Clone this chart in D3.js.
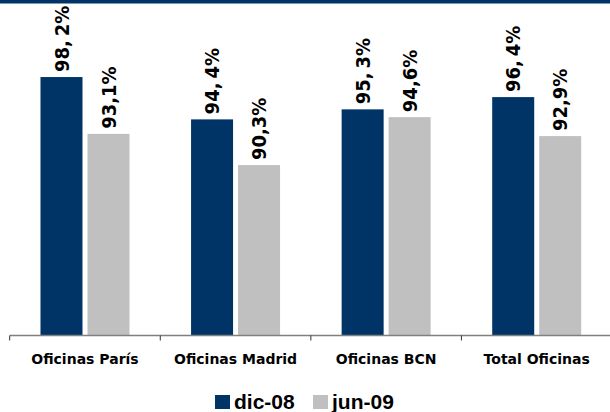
<!DOCTYPE html>
<html>
<head>
<meta charset="utf-8">
<script src="https://cdn.jsdelivr.net/npm/d3@7"></script>
<style>
  body { margin: 0; background: #fff; }
  svg { display: block; }
</style>
</head>
<body>
<div id="chart-area"></div>
<script>
// Data
var categories = ["Oficinas París", "Oficinas Madrid", "Oficinas BCN", "Total Oficinas"];
var series = ["dic-08", "jun-09"];
var dic08 = [98.2, 94.4, 95.3, 96.4];
var jun09 = [93.1, 90.3, 94.6, 92.9];
var colors = ["#003366", "#c0c0c0"];

var width = 610, height = 412;
var plot = { left: 9.7, right: 612, top: 57, bottom: 335.5 };

var svg = d3.select("#chart-area")
    .append("svg")
    .attr("width", width)
    .attr("height", height);

// top band
svg.append("rect")
    .attr("x", 0).attr("y", 0)
    .attr("width", width).attr("height", 3.5)
    .attr("fill", "#003366");

var rows = categories.map(function(c, i) {
    return { cat: c, values: [dic08[i], jun09[i]] };
});

// Scales
var x0 = d3.scaleBand().domain(categories).range([plot.left, plot.right]).padding(0);
var groupW = 89;
var x1 = d3.scaleBand().domain(series)
    .range([x0.bandwidth() / 2 - groupW / 2, x0.bandwidth() / 2 + groupW / 2])
    .paddingInner(5 / 47);
var y = d3.scaleLinear().domain([75, 100]).range([plot.bottom, plot.top]);

var g = svg.append("g");

var groups = g.selectAll(".grp").data(rows).enter()
    .append("g")
    .attr("class", "grp")
    .attr("transform", function(d) { return "translate(" + x0(d.cat) + ",0)"; });

var bars = groups.selectAll("rect")
    .data(function(d) { return d.values.map(function(v, i) { return { s: series[i], v: v, i: i }; }); })
    .enter();

bars.append("rect")
    .attr("x", function(d) { return x1(d.s); })
    .attr("y", function(d) { return y(d.v); })
    .attr("width", x1.bandwidth())
    .attr("height", function(d) { return plot.bottom - y(d.v); })
    .attr("fill", function(d) { return colors[d.i]; });

// value labels, rotated (dic-08 ones show a wider gap after the comma)
var labels = bars.append("text")
    .attr("transform", function(d) {
        return "translate(" + (x1(d.s) + x1.bandwidth() / 2) + "," + (y(d.v) - 5) + ") rotate(-90)";
    })
    .attr("dy", "0.36em")
    .attr("font-family", "'DejaVu Sans', Verdana, sans-serif")
    .attr("font-weight", "bold")
    .attr("font-stretch", "condensed")
    .attr("font-size", "20px")
    .attr("fill", "#000");

labels.each(function(d) {
    var parts = d3.format(".1f")(d.v).split(".");
    var t = d3.select(this);
    t.append("tspan").text(parts[0] + ",");
    t.append("tspan").attr("dx", d.i === 0 ? 4 : 0).text(parts[1] + "%");
});

// X axis
var xAxis = g.append("g")
    .attr("transform", "translate(0," + plot.bottom + ")")
    .call(d3.axisBottom(x0).tickSize(5).tickFormat(""));
xAxis.select(".domain").attr("stroke", "#808080").attr("stroke-width", 1.3)
    .attr("d", "M" + plot.left + ",0H" + width);
xAxis.selectAll(".tick line")
    .attr("stroke", "#333")
    .attr("transform", "translate(" + (-x0.bandwidth() / 2) + ",0)");

g.selectAll(".catlabel").data(categories).enter()
    .append("text")
    .attr("class", "catlabel")
    .attr("x", function(d) { return x0(d) + x0.bandwidth() / 2; })
    .attr("y", 364)
    .attr("text-anchor", "middle")
    .attr("font-family", "'DejaVu Sans', Verdana, sans-serif")
    .attr("font-weight", "bold")
    .attr("font-size", "14px")
    .attr("fill", "#000")
    .text(function(d) { return d; });

// Legend
var legendX = [215, 313];
var legend = svg.selectAll(".legend").data(series).enter()
    .append("g")
    .attr("class", "legend")
    .attr("transform", function(d, i) { return "translate(" + legendX[i] + ",395)"; });
legend.append("rect")
    .attr("width", 15).attr("height", 14)
    .attr("fill", function(d, i) { return colors[i]; });
legend.append("text")
    .attr("x", 19).attr("y", 13.5)
    .attr("font-family", "'Liberation Sans', Arial, sans-serif")
    .attr("font-weight", "bold")
    .attr("font-size", "21px")
    .attr("fill", "#000")
    .text(function(d) { return d; });
</script>
</body>
</html>
